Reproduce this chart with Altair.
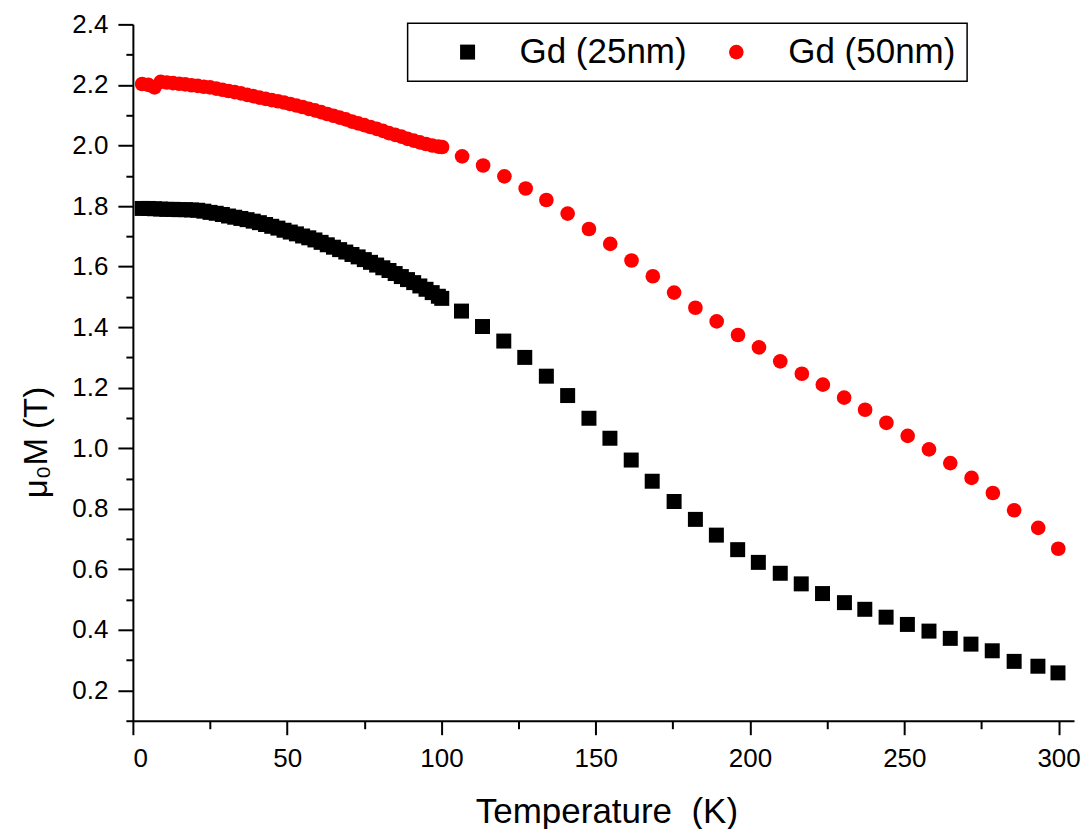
import altair as alt
import pandas as pd

FONT = "Liberation Sans"

# Gd (25nm) — black squares
t_25 = [3, 5, 7, 9, 11, 13, 15, 17, 19, 21, 23, 25, 27, 29, 31, 33, 35, 37, 39, 41,
        43, 45, 47, 49, 51, 53, 55, 57, 59, 61, 63, 65, 67, 69, 71, 73, 75, 77, 79, 81,
        83, 85, 87, 89, 91, 93, 95, 97, 99,
        100.1, 106.5, 113.3, 120.2, 127.0, 134.0, 140.9, 147.8, 154.6, 161.5, 168.3,
        175.4, 182.3, 189.1, 196.0, 202.7, 209.8, 216.6, 223.5, 230.6, 237.2, 244.1,
        251.0, 258.0, 264.9, 271.6, 278.5, 285.6, 293.3, 299.8]
m_25 = [1.792, 1.792, 1.791, 1.790, 1.789, 1.789, 1.788, 1.788, 1.787, 1.786, 1.783,
        1.779, 1.776, 1.772, 1.767, 1.763, 1.759, 1.755, 1.750, 1.745, 1.739, 1.733,
        1.727, 1.720, 1.714, 1.708, 1.701, 1.695, 1.688, 1.680, 1.672, 1.664, 1.656,
        1.648, 1.640, 1.632, 1.623, 1.614, 1.605, 1.596, 1.587, 1.577, 1.567, 1.557,
        1.547, 1.536, 1.525, 1.514, 1.502,
        1.495, 1.453, 1.402, 1.354, 1.300, 1.238, 1.174, 1.099, 1.033, 0.961, 0.891,
        0.824, 0.765, 0.713, 0.665, 0.623, 0.587, 0.552, 0.520, 0.490, 0.468, 0.442,
        0.418, 0.396, 0.372, 0.353, 0.331, 0.296, 0.280, 0.258]

# Gd (50nm) — red circles
t_50 = [3, 5, 7, 9, 11, 13, 15, 17, 19, 21, 23, 25, 27, 29, 31, 33, 35, 37, 39, 41,
        43, 45, 47, 49, 51, 53, 55, 57, 59, 61, 63, 65, 67, 69, 71, 73, 75, 77, 79, 81,
        83, 85, 87, 89, 91, 93, 95, 97, 99,
        100.2, 106.7, 113.5, 120.4, 127.3, 134.0, 140.9, 147.8, 154.7, 161.6, 168.5,
        175.4, 182.3, 189.2, 196.1, 202.9, 209.8, 216.8, 223.6, 230.5, 237.3, 244.2,
        251.1, 258.0, 264.9, 271.8, 278.7, 285.6, 293.4, 299.9]
m_50 = [2.203, 2.200, 2.192, 2.210, 2.208, 2.206, 2.204, 2.202, 2.199, 2.197, 2.194,
        2.192, 2.188, 2.184, 2.180, 2.176, 2.172, 2.167, 2.163, 2.158, 2.154, 2.150,
        2.146, 2.142, 2.137, 2.132, 2.127, 2.121, 2.116, 2.110, 2.104, 2.098, 2.092,
        2.086, 2.079, 2.073, 2.067, 2.061, 2.055, 2.048, 2.041, 2.035, 2.029, 2.022,
        2.016, 2.010, 2.005, 2.000, 1.996,
        1.995, 1.964, 1.934, 1.898, 1.858, 1.820, 1.775, 1.724, 1.675, 1.620, 1.568,
        1.514, 1.464, 1.419, 1.374, 1.333, 1.287, 1.246, 1.210, 1.167, 1.127, 1.084,
        1.041, 0.996, 0.951, 0.902, 0.852, 0.795, 0.737, 0.668]

series_names = ["Gd (25nm)", "Gd (50nm)"]
x_ticks = [0, 25, 50, 75, 100, 125, 150, 175, 200, 225, 250, 275, 300]
y_ticks = [0.1, 0.2, 0.3, 0.4, 0.5, 0.6, 0.7, 0.8, 0.9, 1.0, 1.1, 1.2,
           1.3, 1.4, 1.5, 1.6, 1.7, 1.8, 1.9, 2.0, 2.1, 2.2, 2.3, 2.4]

df = pd.concat([
    pd.DataFrame({"T": t_25, "M": m_25, "s": series_names[0]}),
    pd.DataFrame({"T": t_50, "M": m_50, "s": series_names[1]}),
])

x_axis = alt.Axis(
    values=x_ticks,
    labelExpr="datum.value % 50 === 0 ? datum.label : ''",
    tickSize={"condition": {"test": "datum.value % 50 === 0", "value": 14}, "value": 8},
    grid=False, domainColor="black", domainWidth=2, tickColor="black", tickWidth=2,
    labelFont=FONT, labelFontSize=26, labelColor="black", labelPadding=11,
    title="Temperature \u00a0(K)", titleFont=FONT, titleFontSize=35, titleFontWeight="normal",
    titleColor="black", titleX=474, titleY=102, titleAnchor="middle", titleAlign="center",
    titleBaseline="alphabetic",
)
y_axis = alt.Axis(
    values=y_ticks,
    labelExpr="round(datum.value * 10) % 2 === 0 ? format(datum.value, '.1f') : ''",
    tickSize={"condition": {"test": "round(datum.value * 10) % 2 === 0", "value": 15}, "value": 7},
    grid=False, domainColor="black", domainWidth=2, tickColor="black", tickWidth=2,
    labelFont=FONT, labelFontSize=26, labelColor="black", labelPadding=10,
    title="μ₀M (T)", titleFont=FONT, titleFontSize=33, titleFontWeight="normal",
    titleColor="black", titleX=-96, titleY=418, titleAngle=-90, titleAlign="center",
    titleBaseline="middle",
)

chart = alt.Chart(df).mark_point(filled=True, opacity=1, strokeWidth=0).encode(
    x=alt.X("T:Q", scale=alt.Scale(domain=[0, 305], nice=False, zero=False), axis=x_axis),
    y=alt.Y("M:Q", scale=alt.Scale(domain=[0.1, 2.4], nice=False, zero=False), axis=y_axis),
    color=alt.Color("s:N", scale=alt.Scale(domain=series_names, range=["#000000", "#ff0000"]),
                    legend=alt.Legend(orient="none", legendX=275, legendY=-1,
                                      direction="horizontal", title=None,
                                      strokeColor="black", fillColor="white",
                                      padding=11, labelFont=FONT, labelFontSize=35,
                                      labelColor="black", labelLimit=400,
                                      symbolSize=340, labelOffset=34.5,
                                      columnPadding=0, symbolStrokeWidth=0,
                                      symbolOffset=31.5)),
    shape=alt.Shape("s:N", scale=alt.Scale(domain=series_names, range=["square", "circle"])),
    size=alt.Size("s:N", scale=alt.Scale(domain=series_names, range=[225, 215]), legend=None),
).properties(
    width=942, height=697,
    autosize=alt.AutoSizeParams(type="none"),
    padding={"left": 125, "top": 16, "right": 10, "bottom": 108},
).configure_view(stroke=None).configure_legend(strokeWidth=1.5)

chart.save("out.html", embed_options={"renderer": "svg", "actions": False})
